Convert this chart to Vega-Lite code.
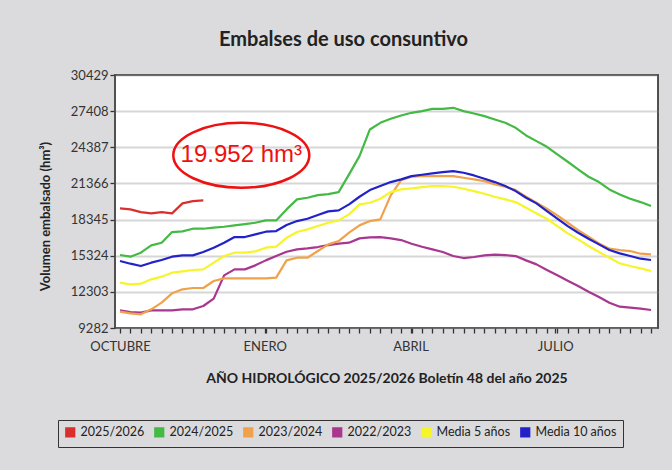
{
  "$schema": "https://vega.github.io/schema/vega-lite/v6.json",
  "autosize": {"type": "none"},
  "width": 543,
  "height": 253,
  "padding": {"left": 115, "top": 75, "right": 14, "bottom": 142},
  "background": "#dbdbdd",
  "view": {"fill": "white", "stroke": "#444", "strokeWidth": 1.5},
  "config": {
    "font": "Lato"
  },
  "title": {
    "text": "Embalses de uso consuntivo",
    "font": "Lato",
    "fontSize": 20,
    "fontWeight": "bold",
    "color": "#222",
    "anchor": "middle",
    "dx": -43,
    "dy": 27,
    "offset": 26,
    "baseline": "bottom"
  },
  "encoding": {
    "x": {
      "field": "semana",
      "type": "quantitative",
      "title": "AÑO HIDROLÓGICO 2025/2026 Boletín 48 del año 2025",
      "scale": {"domain": [-0.48, 51.67], "nice": false, "zero": false},
      "axis": {
        "values": [0,1,2,3,4,5,6,7,8,9,10,11,12,13,13.9,14,15,16,17,18,19,20,21,22,23,24,25,26,27,27.9,28,29,30,31,32,33,34,35,36,37,38,39,40,41,41.8,42,43,44,45,46,47,48,49,50,51],
        "labelExpr": "datum.value == 0 ? 'OCTUBRE' : datum.value == 13.9 ? 'ENERO' : datum.value == 27.9 ? 'ABRIL' : datum.value == 41.8 ? 'JULIO' : ''",
        "labelOverlap": false,
        "labelBound": false,
        "labelFlush": false,
        "grid": false,
        "domain": false,
        "ticks": true,
        "tickColor": "#333",
        "tickSize": 5,
        "tickWidth": 1.3,
        "labelFont": "Lato",
        "labelFontSize": 13,
        "labelColor": "#333",
        "labelPadding": 7,
        "titleFont": "Lato",
        "titleFontSize": 14,
        "titleFontWeight": "bold",
        "titleColor": "#222",
        "titlePadding": 18
      }
    },
    "y": {
      "field": "volumen",
      "type": "quantitative",
      "title": "Volumen embalsado (hm³)",
      "scale": {"domain": [9282, 30429], "nice": false, "zero": false},
      "axis": {
        "values": [9282, 12303, 15324, 18345, 21366, 24387, 27408, 30429],
        "format": "d",
        "grid": true,
        "gridColor": "#d6d6d6",
        "gridWidth": 2,
        "domain": false,
        "ticks": true,
        "tickColor": "#333",
        "tickSize": 5,
        "tickWidth": 1.3,
        "labelFont": "Lato",
        "labelFontSize": 13,
        "labelColor": "#333",
        "labelPadding": 2,
        "titleFont": "Lato",
        "titleFontSize": 13,
        "titleFontWeight": "bold",
        "titleColor": "#222",
        "titlePadding": 18,
        "titleY": 141
      }
    }
  },
  "layer": [
    {
      "data": {"values": [
        {"serie":"2022/2023","semana":0,"volumen":10759},{"serie":"2022/2023","semana":1,"volumen":10620},{"serie":"2022/2023","semana":2,"volumen":10565},{"serie":"2022/2023","semana":3,"volumen":10759},{"serie":"2022/2023","semana":4,"volumen":10759},{"serie":"2022/2023","semana":5,"volumen":10759},{"serie":"2022/2023","semana":6,"volumen":10843},{"serie":"2022/2023","semana":7,"volumen":10843},{"serie":"2022/2023","semana":8,"volumen":11121},{"serie":"2022/2023","semana":9,"volumen":11734},{"serie":"2022/2023","semana":10,"volumen":13683},{"serie":"2022/2023","semana":11,"volumen":14184},{"serie":"2022/2023","semana":12,"volumen":14184},{"serie":"2022/2023","semana":13,"volumen":14518},{"serie":"2022/2023","semana":14,"volumen":14935},{"serie":"2022/2023","semana":15,"volumen":15297},{"serie":"2022/2023","semana":16,"volumen":15659},{"serie":"2022/2023","semana":17,"volumen":15854},{"serie":"2022/2023","semana":18,"volumen":15938},{"serie":"2022/2023","semana":19,"volumen":16049},{"serie":"2022/2023","semana":20,"volumen":16216},{"serie":"2022/2023","semana":21,"volumen":16327},{"serie":"2022/2023","semana":22,"volumen":16411},{"serie":"2022/2023","semana":23,"volumen":16773},{"serie":"2022/2023","semana":24,"volumen":16856},{"serie":"2022/2023","semana":25,"volumen":16884},{"serie":"2022/2023","semana":26,"volumen":16773},{"serie":"2022/2023","semana":27,"volumen":16634},{"serie":"2022/2023","semana":28,"volumen":16327},{"serie":"2022/2023","semana":29,"volumen":16077},{"serie":"2022/2023","semana":30,"volumen":15854},{"serie":"2022/2023","semana":31,"volumen":15631},{"serie":"2022/2023","semana":32,"volumen":15297},{"serie":"2022/2023","semana":33,"volumen":15130},{"serie":"2022/2023","semana":34,"volumen":15214},{"serie":"2022/2023","semana":35,"volumen":15353},{"serie":"2022/2023","semana":36,"volumen":15409},{"serie":"2022/2023","semana":37,"volumen":15381},{"serie":"2022/2023","semana":38,"volumen":15297},{"serie":"2022/2023","semana":39,"volumen":14935},{"serie":"2022/2023","semana":40,"volumen":14601},{"serie":"2022/2023","semana":41,"volumen":14128},{"serie":"2022/2023","semana":42,"volumen":13683},{"serie":"2022/2023","semana":43,"volumen":13237},{"serie":"2022/2023","semana":44,"volumen":12792},{"serie":"2022/2023","semana":45,"volumen":12319},{"serie":"2022/2023","semana":46,"volumen":11873},{"serie":"2022/2023","semana":47,"volumen":11400},{"serie":"2022/2023","semana":48,"volumen":11066},{"serie":"2022/2023","semana":49,"volumen":10982},{"serie":"2022/2023","semana":50,"volumen":10899},{"serie":"2022/2023","semana":51,"volumen":10787},
        {"serie":"2023/2024","semana":0,"volumen":10648},{"serie":"2023/2024","semana":1,"volumen":10509},{"serie":"2023/2024","semana":2,"volumen":10425},{"serie":"2023/2024","semana":3,"volumen":10843},{"serie":"2023/2024","semana":4,"volumen":11400},{"serie":"2023/2024","semana":5,"volumen":12179},{"serie":"2023/2024","semana":6,"volumen":12513},{"serie":"2023/2024","semana":7,"volumen":12625},{"serie":"2023/2024","semana":8,"volumen":12625},{"serie":"2023/2024","semana":9,"volumen":13209},{"serie":"2023/2024","semana":10,"volumen":13432},{"serie":"2023/2024","semana":11,"volumen":13432},{"serie":"2023/2024","semana":12,"volumen":13432},{"serie":"2023/2024","semana":13,"volumen":13432},{"serie":"2023/2024","semana":14,"volumen":13432},{"serie":"2023/2024","semana":15,"volumen":13488},{"serie":"2023/2024","semana":16,"volumen":14935},{"serie":"2023/2024","semana":17,"volumen":15158},{"serie":"2023/2024","semana":18,"volumen":15158},{"serie":"2023/2024","semana":19,"volumen":15715},{"serie":"2023/2024","semana":20,"volumen":16272},{"serie":"2023/2024","semana":21,"volumen":16550},{"serie":"2023/2024","semana":22,"volumen":17246},{"serie":"2023/2024","semana":23,"volumen":17859},{"serie":"2023/2024","semana":24,"volumen":18221},{"serie":"2023/2024","semana":25,"volumen":18360},{"serie":"2023/2024","semana":26,"volumen":20364},{"serie":"2023/2024","semana":27,"volumen":21645},{"serie":"2023/2024","semana":28,"volumen":21923},{"serie":"2023/2024","semana":29,"volumen":21979},{"serie":"2023/2024","semana":30,"volumen":21979},{"serie":"2023/2024","semana":31,"volumen":21979},{"serie":"2023/2024","semana":32,"volumen":21979},{"serie":"2023/2024","semana":33,"volumen":21840},{"serie":"2023/2024","semana":34,"volumen":21701},{"serie":"2023/2024","semana":35,"volumen":21561},{"serie":"2023/2024","semana":36,"volumen":21283},{"serie":"2023/2024","semana":37,"volumen":21088},{"serie":"2023/2024","semana":38,"volumen":20810},{"serie":"2023/2024","semana":39,"volumen":20253},{"serie":"2023/2024","semana":40,"volumen":19752},{"serie":"2023/2024","semana":41,"volumen":19251},{"serie":"2023/2024","semana":42,"volumen":18694},{"serie":"2023/2024","semana":43,"volumen":18081},{"serie":"2023/2024","semana":44,"volumen":17469},{"serie":"2023/2024","semana":45,"volumen":16912},{"serie":"2023/2024","semana":46,"volumen":16355},{"serie":"2023/2024","semana":47,"volumen":15910},{"serie":"2023/2024","semana":48,"volumen":15799},{"serie":"2023/2024","semana":49,"volumen":15715},{"serie":"2023/2024","semana":50,"volumen":15492},{"serie":"2023/2024","semana":51,"volumen":15437},
        {"serie":"Media 5 años","semana":0,"volumen":13070},{"serie":"Media 5 años","semana":1,"volumen":12931},{"serie":"Media 5 años","semana":2,"volumen":12987},{"serie":"Media 5 años","semana":3,"volumen":13349},{"serie":"Media 5 años","semana":4,"volumen":13571},{"serie":"Media 5 años","semana":5,"volumen":13905},{"serie":"Media 5 años","semana":6,"volumen":14017},{"serie":"Media 5 años","semana":7,"volumen":14128},{"serie":"Media 5 años","semana":8,"volumen":14184},{"serie":"Media 5 años","semana":9,"volumen":14741},{"serie":"Media 5 años","semana":10,"volumen":15297},{"serie":"Media 5 años","semana":11,"volumen":15576},{"serie":"Media 5 años","semana":12,"volumen":15576},{"serie":"Media 5 años","semana":13,"volumen":15687},{"serie":"Media 5 años","semana":14,"volumen":15993},{"serie":"Media 5 años","semana":15,"volumen":16077},{"serie":"Media 5 años","semana":16,"volumen":16829},{"serie":"Media 5 años","semana":17,"volumen":17302},{"serie":"Media 5 años","semana":18,"volumen":17525},{"serie":"Media 5 años","semana":19,"volumen":17803},{"serie":"Media 5 años","semana":20,"volumen":18081},{"serie":"Media 5 años","semana":21,"volumen":18276},{"serie":"Media 5 años","semana":22,"volumen":18777},{"serie":"Media 5 años","semana":23,"volumen":19613},{"serie":"Media 5 años","semana":24,"volumen":19752},{"serie":"Media 5 años","semana":25,"volumen":20086},{"serie":"Media 5 años","semana":26,"volumen":20643},{"serie":"Media 5 años","semana":27,"volumen":20865},{"serie":"Media 5 años","semana":28,"volumen":20949},{"serie":"Media 5 años","semana":29,"volumen":21060},{"serie":"Media 5 años","semana":30,"volumen":21144},{"serie":"Media 5 años","semana":31,"volumen":21144},{"serie":"Media 5 años","semana":32,"volumen":21088},{"serie":"Media 5 años","semana":33,"volumen":20921},{"serie":"Media 5 años","semana":34,"volumen":20726},{"serie":"Media 5 años","semana":35,"volumen":20503},{"serie":"Media 5 años","semana":36,"volumen":20253},{"serie":"Media 5 años","semana":37,"volumen":20030},{"serie":"Media 5 años","semana":38,"volumen":19807},{"serie":"Media 5 años","semana":39,"volumen":19334},{"serie":"Media 5 años","semana":40,"volumen":18861},{"serie":"Media 5 años","semana":41,"volumen":18415},{"serie":"Media 5 años","semana":42,"volumen":17803},{"serie":"Media 5 años","semana":43,"volumen":17191},{"serie":"Media 5 años","semana":44,"volumen":16689},{"serie":"Media 5 años","semana":45,"volumen":16133},{"serie":"Media 5 años","semana":46,"volumen":15631},{"serie":"Media 5 años","semana":47,"volumen":15158},{"serie":"Media 5 años","semana":48,"volumen":14685},{"serie":"Media 5 años","semana":49,"volumen":14462},{"serie":"Media 5 años","semana":50,"volumen":14267},{"serie":"Media 5 años","semana":51,"volumen":14045},
        {"serie":"2024/2025","semana":0,"volumen":15381},{"serie":"2024/2025","semana":1,"volumen":15242},{"serie":"2024/2025","semana":2,"volumen":15576},{"serie":"2024/2025","semana":3,"volumen":16188},{"serie":"2024/2025","semana":4,"volumen":16411},{"serie":"2024/2025","semana":5,"volumen":17302},{"serie":"2024/2025","semana":6,"volumen":17358},{"serie":"2024/2025","semana":7,"volumen":17580},{"serie":"2024/2025","semana":8,"volumen":17580},{"serie":"2024/2025","semana":9,"volumen":17664},{"serie":"2024/2025","semana":10,"volumen":17747},{"serie":"2024/2025","semana":11,"volumen":17859},{"serie":"2024/2025","semana":12,"volumen":17970},{"serie":"2024/2025","semana":13,"volumen":18081},{"serie":"2024/2025","semana":14,"volumen":18276},{"serie":"2024/2025","semana":15,"volumen":18276},{"serie":"2024/2025","semana":16,"volumen":19195},{"serie":"2024/2025","semana":17,"volumen":20030},{"serie":"2024/2025","semana":18,"volumen":20169},{"serie":"2024/2025","semana":19,"volumen":20392},{"serie":"2024/2025","semana":20,"volumen":20476},{"serie":"2024/2025","semana":21,"volumen":20643},{"serie":"2024/2025","semana":22,"volumen":22118},{"serie":"2024/2025","semana":23,"volumen":23649},{"serie":"2024/2025","semana":24,"volumen":25877},{"serie":"2024/2025","semana":25,"volumen":26433},{"serie":"2024/2025","semana":26,"volumen":26767},{"serie":"2024/2025","semana":27,"volumen":27046},{"serie":"2024/2025","semana":28,"volumen":27269},{"serie":"2024/2025","semana":29,"volumen":27408},{"serie":"2024/2025","semana":30,"volumen":27603},{"serie":"2024/2025","semana":31,"volumen":27603},{"serie":"2024/2025","semana":32,"volumen":27686},{"serie":"2024/2025","semana":33,"volumen":27408},{"serie":"2024/2025","semana":34,"volumen":27213},{"serie":"2024/2025","semana":35,"volumen":26990},{"serie":"2024/2025","semana":36,"volumen":26712},{"serie":"2024/2025","semana":37,"volumen":26433},{"serie":"2024/2025","semana":38,"volumen":26016},{"serie":"2024/2025","semana":39,"volumen":25375},{"serie":"2024/2025","semana":40,"volumen":24902},{"serie":"2024/2025","semana":41,"volumen":24429},{"serie":"2024/2025","semana":42,"volumen":23789},{"serie":"2024/2025","semana":43,"volumen":23176},{"serie":"2024/2025","semana":44,"volumen":22536},{"serie":"2024/2025","semana":45,"volumen":21923},{"serie":"2024/2025","semana":46,"volumen":21478},{"serie":"2024/2025","semana":47,"volumen":20865},{"serie":"2024/2025","semana":48,"volumen":20448},{"serie":"2024/2025","semana":49,"volumen":20086},{"serie":"2024/2025","semana":50,"volumen":19807},{"serie":"2024/2025","semana":51,"volumen":19473},
        {"serie":"Media 10 años","semana":0,"volumen":14880},{"serie":"Media 10 años","semana":1,"volumen":14657},{"serie":"Media 10 años","semana":2,"volumen":14462},{"serie":"Media 10 años","semana":3,"volumen":14741},{"serie":"Media 10 años","semana":4,"volumen":14963},{"serie":"Media 10 años","semana":5,"volumen":15242},{"serie":"Media 10 años","semana":6,"volumen":15353},{"serie":"Media 10 años","semana":7,"volumen":15353},{"serie":"Media 10 años","semana":8,"volumen":15631},{"serie":"Media 10 años","semana":9,"volumen":15993},{"serie":"Media 10 años","semana":10,"volumen":16411},{"serie":"Media 10 años","semana":11,"volumen":16884},{"serie":"Media 10 años","semana":12,"volumen":16884},{"serie":"Media 10 años","semana":13,"volumen":17107},{"serie":"Media 10 años","semana":14,"volumen":17330},{"serie":"Media 10 años","semana":15,"volumen":17385},{"serie":"Media 10 años","semana":16,"volumen":17887},{"serie":"Media 10 años","semana":17,"volumen":18221},{"serie":"Media 10 años","semana":18,"volumen":18415},{"serie":"Media 10 años","semana":19,"volumen":18722},{"serie":"Media 10 años","semana":20,"volumen":19028},{"serie":"Media 10 años","semana":21,"volumen":19111},{"serie":"Media 10 años","semana":22,"volumen":19613},{"serie":"Media 10 años","semana":23,"volumen":20253},{"serie":"Media 10 años","semana":24,"volumen":20810},{"serie":"Media 10 años","semana":25,"volumen":21144},{"serie":"Media 10 años","semana":26,"volumen":21478},{"serie":"Media 10 años","semana":27,"volumen":21701},{"serie":"Media 10 años","semana":28,"volumen":21979},{"serie":"Media 10 años","semana":29,"volumen":22090},{"serie":"Media 10 años","semana":30,"volumen":22202},{"serie":"Media 10 años","semana":31,"volumen":22313},{"serie":"Media 10 años","semana":32,"volumen":22397},{"serie":"Media 10 años","semana":33,"volumen":22257},{"serie":"Media 10 años","semana":34,"volumen":22035},{"serie":"Media 10 años","semana":35,"volumen":21756},{"serie":"Media 10 años","semana":36,"volumen":21478},{"serie":"Media 10 años","semana":37,"volumen":21144},{"serie":"Media 10 años","semana":38,"volumen":20726},{"serie":"Media 10 años","semana":39,"volumen":20169},{"serie":"Media 10 años","semana":40,"volumen":19696},{"serie":"Media 10 años","semana":41,"volumen":19056},{"serie":"Media 10 años","semana":42,"volumen":18415},{"serie":"Media 10 años","semana":43,"volumen":17803},{"serie":"Media 10 años","semana":44,"volumen":17246},{"serie":"Media 10 años","semana":45,"volumen":16745},{"serie":"Media 10 años","semana":46,"volumen":16272},{"serie":"Media 10 años","semana":47,"volumen":15799},{"serie":"Media 10 años","semana":48,"volumen":15520},{"serie":"Media 10 años","semana":49,"volumen":15297},{"serie":"Media 10 años","semana":50,"volumen":15075},{"serie":"Media 10 años","semana":51,"volumen":14963},
        {"serie":"2025/2026","semana":0,"volumen":19279},{"serie":"2025/2026","semana":1,"volumen":19195},{"serie":"2025/2026","semana":2,"volumen":18972},{"serie":"2025/2026","semana":3,"volumen":18861},{"serie":"2025/2026","semana":4,"volumen":18972},{"serie":"2025/2026","semana":5,"volumen":18861},{"serie":"2025/2026","semana":6,"volumen":19696},{"serie":"2025/2026","semana":7,"volumen":19891},{"serie":"2025/2026","semana":8,"volumen":19952}
      ]},
      "mark": {"type": "line", "strokeJoin": "round"},
      "encoding": {
        "color": {
          "field": "serie",
          "type": "nominal",
          "scale": {
            "domain": ["2025/2026", "2024/2025", "2023/2024", "2022/2023", "Media 5 años", "Media 10 años"],
            "range": ["#d9302c", "#44b944", "#f0a24a", "#a8378f", "#f5f52a", "#2222c8"]
          },
          "legend": {
            "orient": "none",
            "legendX": -57,
            "legendY": 345,
            "direction": "horizontal",
            "columns": 6,
            "title": null,
            "symbolType": "square",
            "symbolSize": 64,
            "symbolStrokeWidth": 1,
            "labelFont": "Lato",
            "labelFontSize": 12.5,
            "labelColor": "#222",
            "labelOffset": 4,
            "columnPadding": 5,
            "strokeColor": "#333",
            "padding": 6,
            "encode": {
              "symbols": {
                "update": {
                  "fill": {"scale": "color", "field": "value"},
                  "stroke": {"value": "#333"},
                  "fillOpacity": {"value": 1},
                  "strokeWidth": {"value": 1}
                }
              }
            }
          }
        },
        "strokeWidth": {
          "field": "serie",
          "type": "nominal",
          "scale": {
            "domain": ["2025/2026", "2024/2025", "2023/2024", "2022/2023", "Media 5 años", "Media 10 años"],
            "range": [2.2, 2.2, 2.2, 2.2, 3, 3]
          },
          "legend": null
        }
      }
    },
    {
      "data": {"values": [{"semana": 11.65, "volumen": 23720, "texto": "19.952 hm³"}]},
      "mark": {
        "type": "point",
        "shape": "M -1 0 C -1 -0.264 -0.5523 -0.478 0 -0.478 C 0.5523 -0.478 1 -0.264 1 0 C 1 0.264 0.5523 0.478 0 0.478 C -0.5523 0.478 -1 0.264 -1 0 Z",
        "size": 18496,
        "filled": false,
        "stroke": "#ee1111",
        "strokeWidth": 2.5,
        "opacity": 1
      }
    },
    {
      "data": {"values": [{"semana": 11.65, "volumen": 23720, "texto": "19.952 hm³"}]},
      "mark": {
        "type": "text",
        "font": "Liberation Sans",
        "fontSize": 24,
        "color": "#ee1111",
        "align": "center",
        "baseline": "middle"
      },
      "encoding": {"text": {"field": "texto", "type": "nominal"}}
    },
    {
      "data": {"values": [
        {"semana": -0.48, "semana_fin": 51.67, "volumen": 30429, "volumen_fin": 30429},
        {"semana": -0.48, "semana_fin": 51.67, "volumen": 9282, "volumen_fin": 9282},
        {"semana": -0.48, "semana_fin": -0.48, "volumen": 9282, "volumen_fin": 30429},
        {"semana": 51.67, "semana_fin": 51.67, "volumen": 9282, "volumen_fin": 30429}
      ]},
      "mark": {"type": "rule", "color": "#4a4a4a", "strokeWidth": 1.6, "strokeCap": "square"},
      "encoding": {
        "x2": {"field": "semana_fin"},
        "y2": {"field": "volumen_fin"}
      }
    }
  ]
}
